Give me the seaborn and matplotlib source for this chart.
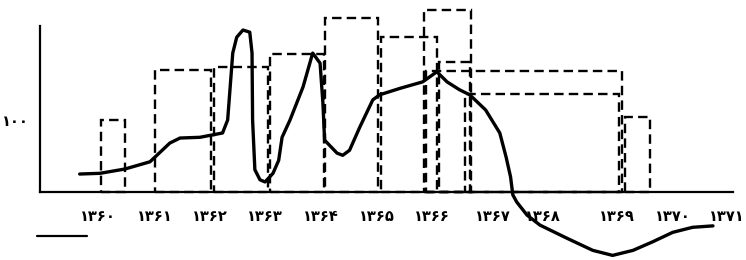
import numpy as np
import pandas as pd
import matplotlib.pyplot as plt
import seaborn as sns

# solid curve (year, index value)
curve_years = [1359.68, 1360.04, 1360.48, 1360.92, 1361.27, 1361.45, 1361.80, 1362.20,
               1362.29, 1362.38, 1362.45, 1362.56, 1362.68, 1362.72, 1362.73, 1362.77,
               1362.86, 1362.95, 1363.09, 1363.19, 1363.25, 1363.39, 1363.62, 1363.79,
               1363.92, 1363.97, 1364.00, 1364.22, 1364.32, 1364.44, 1364.62, 1364.85,
               1364.97, 1365.33, 1365.73, 1365.98, 1366.16, 1366.38, 1366.56, 1366.84,
               1367.09, 1367.20, 1367.28, 1367.32, 1367.39, 1367.57, 1367.80, 1368.27,
               1368.73, 1369.08, 1369.44, 1369.79, 1370.14, 1370.49, 1370.85]
curve_values = [25, 26, 32, 42, 68, 75, 76, 82,
                100, 193, 215, 225, 222, 193, 100, 31,
                17, 14, 26, 44, 76, 100, 146, 193,
                179, 124, 72, 54, 51, 58, 90, 128,
                135, 144, 153, 167, 153, 142, 135, 114,
                82, 49, 21, -4, -14, -32, -46, -64,
                -81, -88, -81, -69, -56, -49, -47]

# dashed outline bars
bar_left = [1360.05, 1361.0, 1362.05, 1363.03, 1364.0, 1365.0, 1365.75, 1366.02, 1365.79, 1366.47, 1369.29]
bar_right = [1360.48, 1362.0, 1363.0, 1363.99, 1364.95, 1365.98, 1366.58, 1366.56, 1369.25, 1369.2, 1369.74]
bar_height = [100, 169, 174, 192, 242, 215, 253, 181, 168, 136, 104]

tick_labels = ['۱۳۶۰', '۱۳۶۱', '۱۳۶۲', '۱۳۶۳', '۱۳۶۴', '۱۳۶۵',
               '۱۳۶۶', '۱۳۶۷', '۱۳۶۸', '۱۳۶۹', '۱۳۷۰', '۱۳۷۱']

df = pd.DataFrame({'year': curve_years, 'value': curve_values})

sns.set_style('white')
plt.rcParams['font.family'] = ['DejaVu Sans']

fig = plt.figure(figsize=(7.46, 2.6), dpi=100)
ax = fig.add_axes([0.0536, 0, 0.931, 1])

widths = np.subtract(bar_right, bar_left)
ax.bar(bar_left, bar_height, width=widths, align='edge', fill=False,
       edgecolor='black', linestyle=(0, (4, 2.2)), linewidth=1.7)

sns.lineplot(x='year', y='value', data=df, sort=False, color='black',
             linewidth=2.4, ax=ax)

ax.set_xlim(1358.98, 1371.23)
ax.set_ylim(-94.4, 266.7)
ax.set_xlabel('')
ax.set_ylabel('')

for side in ['top', 'right']:
    ax.spines[side].set_visible(False)
ax.spines['left'].set_bounds(0, 230)
ax.spines['bottom'].set_position(('data', 0))
ax.spines['bottom'].set_bounds(1358.98, 1371.2)
for side in ['left', 'bottom']:
    ax.spines[side].set_color('black')
    ax.spines[side].set_linewidth(1.6)

# the hand-lettered year labels sit a little off the even spacing
ax.set_xticks([1360.0, 1361.0, 1361.97, 1362.94, 1363.93, 1364.92,
               1365.89, 1366.97, 1367.85, 1369.15, 1370.14, 1371.09])
ax.set_xticklabels(tick_labels, fontsize=10.5, fontweight='bold')
ax.set_yticks([100])
ax.set_yticklabels(['۱۰۰'], fontsize=10.5, fontweight='bold')
ax.tick_params(axis='x', length=0, pad=12, colors='black')
ax.tick_params(axis='y', length=0, pad=8, colors='black')
ax.grid(False)

# short legend stroke at lower left
fig.add_artist(plt.Line2D([0.0496, 0.1166], [0.092, 0.092], color='black', linewidth=1.6))

fig.savefig('out.png', dpi=100)
